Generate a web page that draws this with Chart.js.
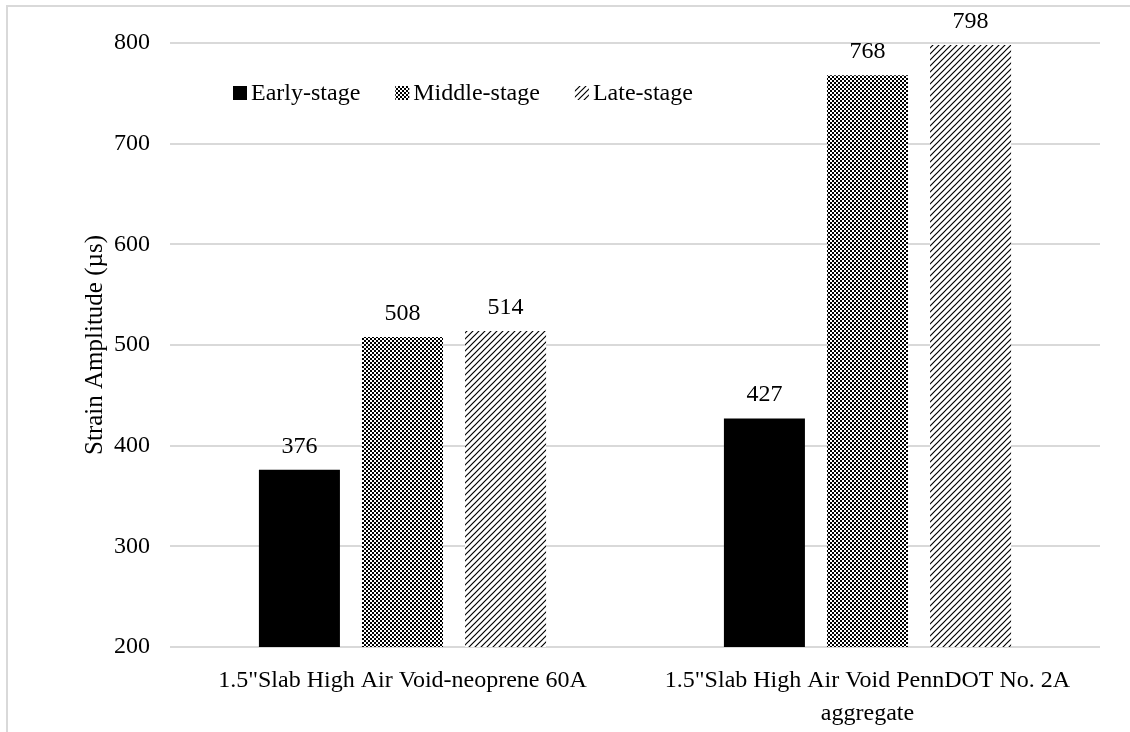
<!DOCTYPE html>
<html><head><meta charset="utf-8">
<script src="https://cdn.jsdelivr.net/npm/chart.js@4/dist/chart.umd.min.js"></script>
<style>html,body{margin:0;padding:0;background:#fff;overflow:hidden;}</style>
</head><body>
<canvas id="c" width="1130" height="732" style="display:block;width:1130px;height:732px"></canvas>
<script>
const categories = [['1.5"Slab High Air Void-neoprene 60A'], ['1.5"Slab High Air Void PennDOT No. 2A', 'aggregate']];
const seriesNames = ['Early-stage', 'Middle-stage', 'Late-stage'];
const earlyStage = [376, 427];
const middleStage = [508, 768];
const lateStage = [514, 798];
const yTicks = [200, 300, 400, 500, 600, 700, 800];
const yTitle = 'Strain Amplitude (µs)';

const FONT = '"Liberation Serif", "Times New Roman", serif';
const canvas = document.getElementById('c');
const ctx = canvas.getContext('2d');

function makeChecker() {
  const c = document.createElement('canvas'); c.width = 4; c.height = 4;
  const x = c.getContext('2d');
  x.fillStyle = '#fff'; x.fillRect(0, 0, 4, 4);
  x.fillStyle = '#000'; x.fillRect(0, 0, 2, 2); x.fillRect(2, 2, 2, 2);
  return ctx.createPattern(c, 'repeat');
}
function makeDiag() {
  const s = 6; const c = document.createElement('canvas'); c.width = s; c.height = s;
  const x = c.getContext('2d');
  x.fillStyle = '#fff'; x.fillRect(0, 0, s, s);
  x.strokeStyle = '#000'; x.lineWidth = 1.2;
  x.beginPath();
  x.moveTo(0, s); x.lineTo(s, 0);
  x.moveTo(-1, 1); x.lineTo(1, -1);
  x.moveTo(s - 1, s + 1); x.lineTo(s + 1, s - 1);
  x.stroke();
  return ctx.createPattern(c, 'repeat');
}
const fills = ['#000000', makeChecker(), makeDiag()];

const bgBorder = {
  id: 'bgBorder',
  beforeDraw(chart) {
    const c = chart.ctx;
    c.save();
    c.fillStyle = '#fff'; c.fillRect(0, 0, chart.width, chart.height);
    c.strokeStyle = '#d9d9d9'; c.lineWidth = 2;
    c.strokeRect(7, 6, chart.width + 20, chart.height + 20);
    c.restore();
  }
};

const valueLabels = {
  id: 'valueLabels',
  afterDatasetsDraw(chart) {
    const c = chart.ctx;
    c.save();
    c.font = '24px ' + FONT; c.fillStyle = '#000';
    c.textAlign = 'center'; c.textBaseline = 'alphabetic';
    chart.data.datasets.forEach((ds, i) => {
      chart.getDatasetMeta(i).data.forEach((el, j) => {
        c.fillText(String(ds.data[j]), el.x, el.y - 17);
      });
    });
    c.restore();
  }
};

const innerLegend = {
  id: 'innerLegend',
  afterDraw(chart) {
    const c = chart.ctx;
    const area = chart.chartArea;
    c.save();
    c.font = '24px ' + FONT; c.fillStyle = '#000';
    c.textBaseline = 'middle'; c.textAlign = 'left';
    let x = area.left + 63;
    const yc = area.top + 50;
    chart.data.datasets.forEach((ds) => {
      const box = 14;
      c.fillStyle = ds.backgroundColor;
      c.fillRect(x, yc - box / 2, box, box);
      c.fillStyle = '#000';
      const tx = x + box + 4;
      c.fillText(ds.label, tx, yc + 1);
      x = tx + c.measureText(ds.label).width + 35;
    });
    c.restore();
  }
};

const datasets = [earlyStage, middleStage, lateStage].map((d, i) => ({
  label: seriesNames[i],
  data: d,
  backgroundColor: fills[i],
  borderWidth: 0,
  categoryPercentage: 0.665,
  barPercentage: 0.786
}));

new Chart(ctx, {
  type: 'bar',
  data: { labels: categories, datasets },
  options: {
    responsive: false,
    devicePixelRatio: 1,
    animation: false,
    layout: { padding: { top: 43, right: 30, left: 0, bottom: 0 } },
    plugins: { legend: { display: false }, tooltip: { enabled: false } },
    scales: {
      x: {
        grid: { display: false },
        border: { display: false },
        ticks: { color: '#000', font: { family: FONT, size: 24, lineHeight: 1.35 }, padding: 10, maxRotation: 0, autoSkip: false },
        afterFit(s) { s.height = 85; }
      },
      y: {
        min: 200, max: 800,
        afterBuildTicks(s) { s.ticks = yTicks.map(v => ({ value: v })); },
        grid: { color: '#d9d9d9', lineWidth: 2, drawTicks: false },
        border: { display: false },
        ticks: { color: '#000', font: { family: FONT, size: 24 }, padding: 20 },
        title: { display: true, text: yTitle, color: '#000', font: { family: FONT, size: 25 }, padding: { top: 80, bottom: 0 } },
        afterFit(s) { s.width = 170; }
      }
    }
  },
  plugins: [bgBorder, valueLabels, innerLegend]
});
</script>
</body></html>
